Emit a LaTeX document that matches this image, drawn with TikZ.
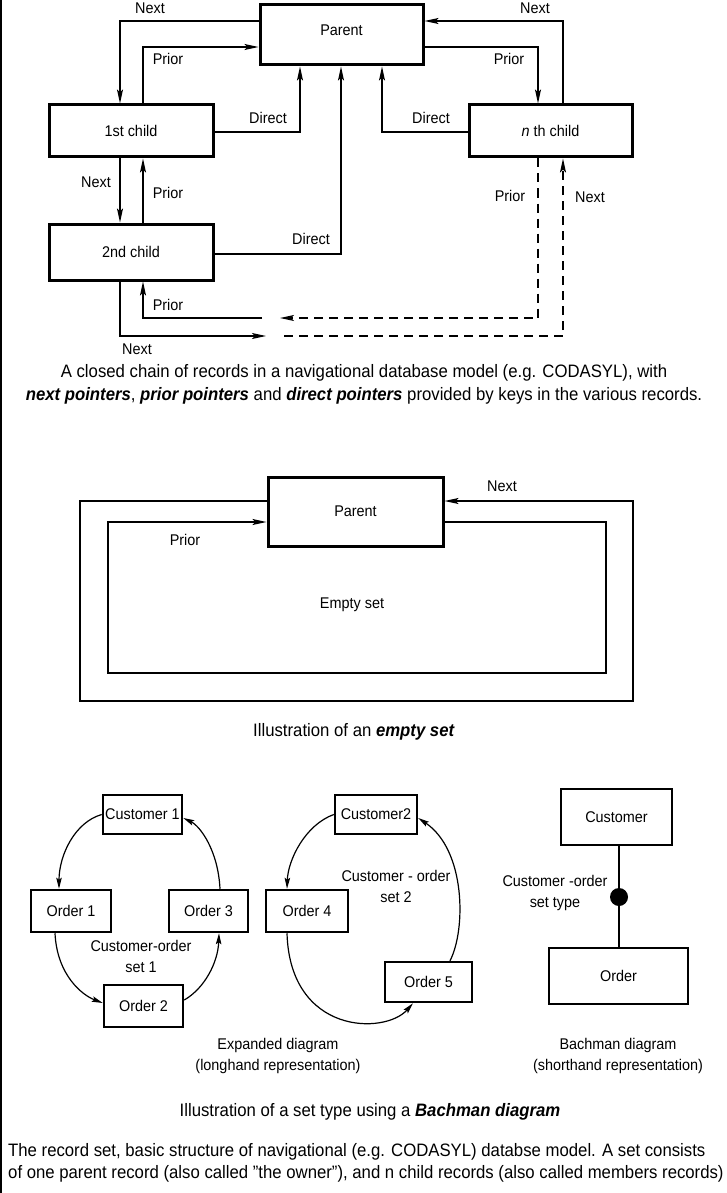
\documentclass[tikz,border=0pt]{standalone}
\usepackage{fontspec}
\setmainfont{Liberation Sans}[FakeStretch=0.93]
\usetikzlibrary{arrows.meta}
\begin{document}
\begin{tikzpicture}[x=1pt,y=-1pt,
  box/.style={draw, line width=3pt, inner sep=0pt, font=\fontsize{15.5}{18}\selectfont},
  sbox/.style={draw, line width=2.5pt, inner sep=0pt, font=\fontsize{15.5}{18}\selectfont},
  lbl/.style={inner sep=0pt, font=\fontsize{15.5}{21}\selectfont},
  captxt/.style={inner sep=0pt, font=\fontsize{18}{20}\selectfont},
  arr/.style={line width=1.3pt, -{Stealth[length=14pt,width=6pt,inset=3pt]}},
  ln/.style={line width=1.3pt},
  dsh/.style={line width=1.3pt, dash pattern=on 9pt off 6pt},
  carr/.style={line width=1.2pt, -{Stealth[length=11pt,width=5.5pt,inset=2pt]}}
]
\useasboundingbox (0,0) rectangle (727,1193);
\draw[line width=1.5pt] (1,0) -- (1,1193);

% ---------- top: closed chain ----------
\node[box, minimum width=163pt, minimum height=60pt, text depth=10pt] (par) at (341.5,35) {Parent};
\node[box, minimum width=164pt, minimum height=52pt] (c1) at (131,131) {1st child};
\node[box, minimum width=164pt, minimum height=56pt] (c2) at (131,252) {2nd child};
\node[box, minimum width=163pt, minimum height=52pt] (cn) at (550.5,131) {\textit{n} th child};

\draw[arr] (par.west |- 0,21) -| (c1.north -| 120,0);
\draw[arr] (c1.north -| 143,0) |- (par.west |- 0,47);
\draw[arr] (c1.east |- 0,132) -| (par.south -| 300,0);
\draw[arr] (c2.east |- 0,254) -| (par.south -| 341,0);
\draw[arr] (cn.north -| 563,0) |- (par.east |- 0,21);
\draw[arr] (par.east |- 0,47) -| (cn.north -| 538,0);
\draw[arr] (cn.west |- 0,132) -| (par.south -| 382,0);
\draw[arr] (c1.south -| 120,0) -- (c2.north -| 120,0);
\draw[arr] (c2.north -| 143,0) -- (c1.south -| 143,0);

\coordinate (pR) at (280,318);
\coordinate (pL) at (262,318);
\coordinate (nL) at (266,336);
\coordinate (nR) at (284,336);
\draw[dsh, -{Stealth[length=14pt,width=6pt,inset=3pt]}] (cn.south -| 538,0) |- (pR);
\draw[arr] (pL) -| (c2.south -| 143,0);
\draw[arr] (c2.south -| 120,0) |- (nL);
\draw[dsh, -{Stealth[length=14pt,width=6pt,inset=3pt]}] (nR) -| (cn.south -| 563,0);

\node[lbl] (l1) at (150,8) {Next};
\node[lbl] (l2) at (168,59) {Prior};
\node[lbl] (l3) at (268,118) {Direct};
\node[lbl] (l4) at (311,239) {Direct};
\node[lbl] (l5) at (535,8) {Next};
\node[lbl] (l6) at (509,59) {Prior};
\node[lbl] (l7) at (431,118) {Direct};
\node[lbl] (l8) at (96,182) {Next};
\node[lbl] (l9) at (168,193) {Prior};
\node[lbl] (l10) at (168,305) {Prior};
\node[lbl] (l11) at (137,349) {Next};
\node[lbl] (l12) at (510,196) {Prior};
\node[lbl] (l13) at (590,197) {Next};

\node[captxt] (cap1) at (364,373) {A closed chain of records in a navigational database model (e.g. CODASYL), with};
\node[captxt] (cap2) at (364,396) {\textbf{\textit{next pointers}}, \textbf{\textit{prior pointers}} and \textbf{\textit{direct pointers}} provided by keys in the various records.};

% ---------- middle: empty set ----------
\node[box, minimum width=175pt, minimum height=69pt] (ep) at (355.5,511.5) {Parent};
\coordinate (o1) at (80,701);
\coordinate (o2) at (633,501);
\coordinate (i1) at (606,673);
\coordinate (i2) at (108,522);
\draw[arr] (ep.west |- 0,501) -| (o1) -| (o2) -- (ep.east |- 0,501);
\draw[arr] (ep.east |- 0,522) -| (i1) -| (i2) -- (ep.west |- 0,522);
\node[lbl] (m1) at (502,486) {Next};
\node[lbl] (m2) at (185,540) {Prior};
\node[lbl] (m3) at (352,605) {Empty set};
\node[captxt] (m4) at (354,732) {Illustration of an \textbf{\textit{empty set}}};

% ---------- bottom: set type ----------
\node[sbox, minimum width=79pt, minimum height=39pt] (cu1) at (142.5,814.5) {Customer 1};
\node[sbox, minimum width=80pt, minimum height=42pt] (or1) at (71,911) {Order 1};
\node[sbox, minimum width=79pt, minimum height=42pt] (or3) at (208.5,911) {Order 3};
\node[sbox, minimum width=79pt, minimum height=42pt] (or2) at (143.5,1006) {Order 2};
\node[sbox, minimum width=82pt, minimum height=39pt] (cu2) at (376,814.5) {Customer2};
\node[sbox, minimum width=82pt, minimum height=42pt] (or4) at (307,911) {Order 4};
\node[sbox, minimum width=87pt, minimum height=40pt] (or5) at (428.5,982) {Order 5};

\draw[carr] (cu1.west) .. controls (75,822) and (59,855) .. (or1.north -| 59,0);
\draw[carr] (or1.south -| 55,0) .. controls (57,975) and (82,995) .. (or2.west |- 0,1003);
\draw[carr] (or2.east |- 0,1000) .. controls (205,988) and (218,962) .. (or3.south -| 219,0);
\draw[carr] (or3.north -| 220,0) .. controls (218,850) and (200,826) .. (cu1.east |- 0,818);

\draw[carr] (cu2.west) .. controls (305,825) and (288,860) .. (or4.north -| 287,0);
\draw[carr] (or4.south -| 287,0) .. controls (290,1035) and (385,1035) .. (or5.south -| 413,0);
\draw[carr] (or5.north -| 450,0) .. controls (466,930) and (466,850) .. (cu2.east |- 0,818);

\node[lbl, align=center] (s1) at (141,956) {Customer-order\\set 1};
\node[lbl, align=center] (s2) at (396,886) {Customer - order\\set 2};
\node[lbl, align=center] (s3) at (278,1056) {Expanded diagram\\(longhand representation)};

\node[sbox, minimum width=111pt, minimum height=56pt] (bcu) at (616.5,817) {Customer};
\node[sbox, minimum width=139pt, minimum height=56pt] (bor) at (618.5,976) {Order};
\draw[ln] (bcu.south -| 619,0) -- (bor.north -| 619,0);
\node[circle, fill, inner sep=0pt, minimum size=18pt] (dot) at (619,897) {};
\node[lbl, align=center] (b1) at (555,893) {Customer -order\\set type};
\node[lbl, align=center] (b2) at (618,1056) {Bachman diagram\\(shorthand representation)};

\node[captxt] (f1) at (370,1112) {Illustration of a set type using a \textbf{\textit{Bachman diagram}}};
\node[captxt, anchor=west] (f2) at (8,1152) {The record set, basic structure of navigational (e.g. CODASYL) databse model. A set consists};
\node[captxt, anchor=west] (f3) at (8,1174) {of one parent record (also called "the owner"), and n child records (also called members records)};
\end{tikzpicture}
\end{document}
